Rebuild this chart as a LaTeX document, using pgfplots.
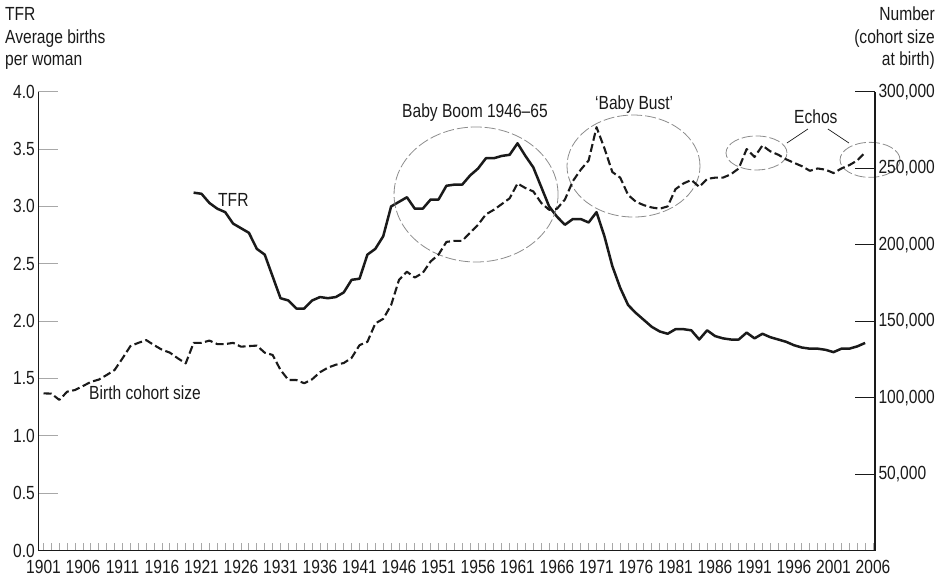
\documentclass[border=0pt]{standalone}
\usepackage{pgfplots}
\pgfplotsset{compat=1.18}
\usepackage{fontspec}
\setmainfont{Liberation Sans}[FakeStretch=0.82]
\definecolor{ink}{HTML}{1A1A1A}
\definecolor{tickgray}{HTML}{A8A8A8}
\definecolor{ellgray}{HTML}{8C8C8C}

\begin{document}
\begin{tikzpicture}[font=\fontsize{19}{22.8}\selectfont]
\pgfplotsset{
  every axis/.append style={font=\fontsize{19}{22.8}\selectfont},
  base/.style={scale only axis, width=836.7pt, height=458.9pt,
    xmin=1900.34, xmax=2006.25, clip=false,
    axis line style={ink, line width=1.3pt}, tick align=inside,
    /pgf/number format/assume math mode=true,
    /pgf/number format/1000 sep={},
    ticklabel style={ink}},
}
\begin{axis}[base, ymin=0, ymax=4, axis y line*=left, axis x line*=bottom,
  xtick={1901,1906,...,2006}, minor x tick num=4,
  xtick style={/pgfplots/major tick length=8pt,/pgfplots/minor tick length=8pt, tickgray, line width=0.9pt},
  ytick={0,0.5,...,4},
  ytick style={/pgfplots/major tick length=20pt, tickgray, line width=1.1pt},
  xticklabel style={yshift=-6pt},
  yticklabel style={/pgf/number format/.cd, fixed, fixed zerofill, precision=1},
]
\addplot[ink, line width=2.5pt, line join=round] table[x index=0, y index=1]{
1920 3.12
1921 3.11
1922 3.03
1923 2.98
1924 2.95
1925 2.85
1926 2.81
1927 2.77
1928 2.63
1929 2.58
1930 2.39
1931 2.20
1932 2.18
1933 2.11
1934 2.11
1935 2.18
1936 2.21
1937 2.20
1938 2.21
1939 2.25
1940 2.36
1941 2.37
1942 2.58
1943 2.63
1944 2.74
1945 3.00
1946 3.04
1947 3.08
1948 2.98
1949 2.98
1950 3.06
1951 3.06
1952 3.18
1953 3.19
1954 3.19
1955 3.27
1956 3.33
1957 3.42
1958 3.42
1959 3.44
1960 3.45
1961 3.55
1962 3.44
1963 3.34
1964 3.17
1965 3.00
1966 2.91
1967 2.84
1968 2.89
1969 2.89
1970 2.86
1971 2.95
1972 2.74
1973 2.48
1974 2.29
1975 2.14
1976 2.07
1977 2.01
1978 1.95
1979 1.91
1980 1.89
1981 1.93
1982 1.93
1983 1.92
1984 1.84
1985 1.92
1986 1.87
1987 1.85
1988 1.84
1989 1.84
1990 1.90
1991 1.85
1992 1.89
1993 1.86
1994 1.84
1995 1.82
1996 1.79
1997 1.77
1998 1.76
1999 1.76
2000 1.75
2001 1.73
2002 1.76
2003 1.76
2004 1.78
2005 1.81
};
% axis titles
\node[anchor=base west, inner sep=0, ink] at ([xshift=-33.3pt,yshift=70.7pt]rel axis cs:0,1) {TFR};
\node[anchor=base west, inner sep=0, ink] at ([xshift=-33.3pt,yshift=47.7pt]rel axis cs:0,1) {Average births};
\node[anchor=base west, inner sep=0, ink] at ([xshift=-33.3pt,yshift=25.7pt]rel axis cs:0,1) {per woman};
\node[anchor=base east, inner sep=0, ink] at ([xshift=60pt,yshift=70.7pt]rel axis cs:1,1) {Number};
\node[anchor=base east, inner sep=0, ink] at ([xshift=60pt,yshift=47.7pt]rel axis cs:1,1) {(cohort size};
\node[anchor=base east, inner sep=0, ink] at ([xshift=60pt,yshift=25.7pt]rel axis cs:1,1) {at birth)};
% annotations
\node[anchor=base west, inner sep=0, ink] at (axis cs:1923.09,2.995) {TFR};
\node[anchor=base west, inner sep=0, ink] at (axis cs:1906.76,1.313) {Birth cohort size};
\node[anchor=base west, inner sep=0, ink] at (axis cs:1946.38,3.771) {Baby Boom 1946--65};
\node[anchor=base west, inner sep=0, ink] at (axis cs:1970.81,3.849) {‘Baby Bust’};
\node[anchor=base west, inner sep=0, ink] at (axis cs:1996.0,3.727) {Echos};
\draw[ink, line width=0.7pt] (axis cs:1997.76,3.675) -- (axis cs:1995.1,3.553);
\draw[ink, line width=0.7pt] (axis cs:2000.29,3.675) -- (axis cs:2002.95,3.553);
\draw[ellgray, line width=0.8pt, dash pattern=on 11pt off 3pt] (axis cs:1955.75,3.104) ellipse [x radius=82pt, y radius=67.5pt];
\draw[ellgray, line width=0.8pt, dash pattern=on 11pt off 3pt] (axis cs:1975.68,3.352) ellipse [x radius=66.5pt, y radius=51pt];
\draw[ellgray, line width=0.8pt, dash pattern=on 11pt off 3pt] (axis cs:1991.25,3.466) ellipse [x radius=30.5pt, y radius=17pt];
\draw[ellgray, line width=0.8pt, dash pattern=on 11pt off 3pt] (axis cs:2005.62,3.406) ellipse [x radius=30pt, y radius=17.5pt];
\end{axis}
\begin{axis}[base, ymin=0, ymax=300000, axis y line*=right, axis x line=none,
  scaled y ticks=false,
  ytick={50000,100000,150000,200000,250000,300000},
  yticklabels={{50,000},{100,000},{150,000},{200,000},{250,000},{300,000}},
  ytick style={/pgfplots/major tick length=20pt, ink, line width=1.1pt},
]
\addplot[ink, line width=2.1pt, line join=round, dash pattern=on 8pt off 3.5pt] table[x index=0, y index=1]{
1901 102800
1902 102600
1903 98500
1904 103900
1905 105000
1906 107600
1907 110300
1908 111800
1909 114800
1910 118100
1911 125700
1912 133700
1913 135800
1914 137600
1915 134300
1916 131300
1917 129400
1918 125700
1919 122400
1920 135800
1921 135800
1922 137300
1923 135000
1924 135000
1925 135800
1926 133300
1927 133700
1928 134000
1929 129400
1930 127900
1931 118100
1932 111500
1933 111500
1934 109400
1935 112000
1936 116600
1937 119600
1938 121500
1939 122600
1940 126000
1941 134300
1942 136500
1943 148500
1944 151500
1945 160500
1946 177000
1947 182300
1948 178500
1949 181500
1950 189000
1951 193500
1952 201800
1953 202500
1954 202500
1955 207800
1956 213000
1957 219800
1958 222800
1959 226500
1960 230300
1961 240000
1962 237000
1963 234800
1964 227300
1965 222800
1966 223500
1967 229500
1968 241500
1969 249000
1970 255000
1971 276800
1972 263000
1973 247500
1974 243800
1975 232500
1976 228000
1977 225800
1978 224300
1979 223500
1980 225000
1981 236300
1982 240000
1983 242300
1984 237800
1985 243000
1986 243800
1987 243800
1988 246000
1989 249800
1990 262500
1991 257300
1992 264800
1993 261000
1994 258800
1995 255800
1996 253500
1997 251300
1998 248300
1999 249800
2000 249000
2001 246800
2002 249800
2003 252000
2004 255000
2005 260300
};
\end{axis}
\path ([shift={(-38.3pt,-27.4pt)}]current axis.south west) rectangle ([shift={(70pt,91.7pt)}]current axis.north east);
\end{tikzpicture}
\end{document}
